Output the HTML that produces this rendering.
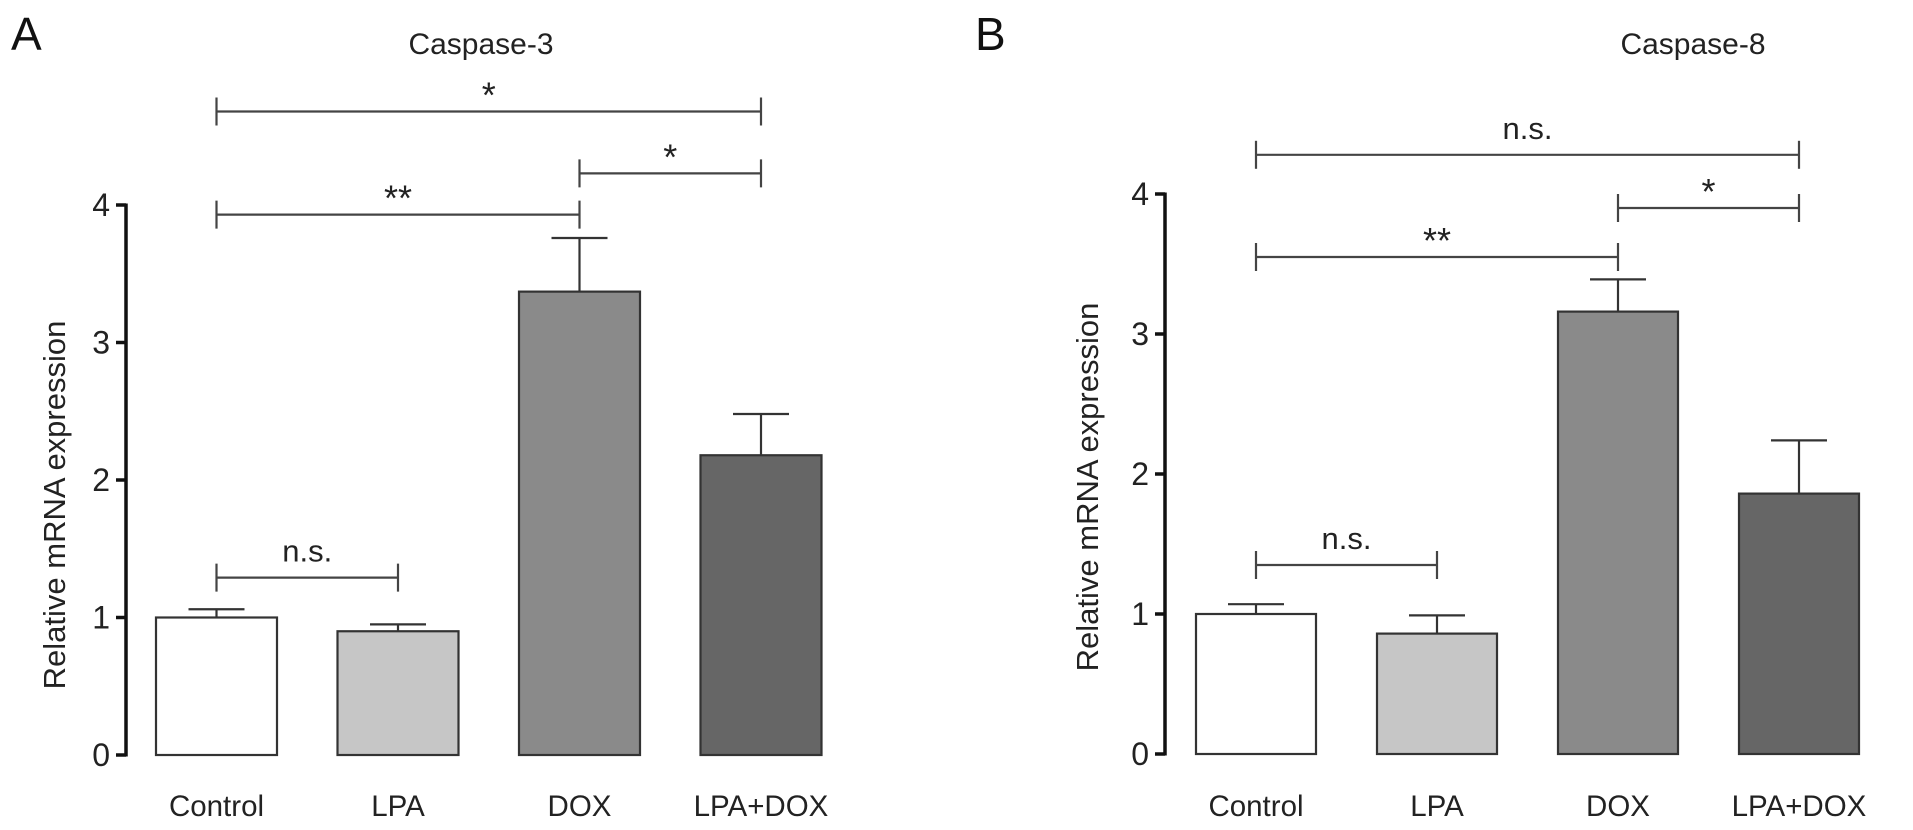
<!DOCTYPE html>
<html><head><meta charset="utf-8"><style>
html,body{margin:0;padding:0;background:#fff;}
svg{display:block;font-family:"Liberation Sans",Arial,sans-serif;}
</style></head><body>
<svg id="chart" width="1913" height="830" viewBox="0 0 1913 830">
<text x="11" y="50" font-size="46" fill="#111">A</text>
<text x="975" y="50" font-size="46" fill="#111">B</text>
</svg>
<script>
const categories = ["Control","LPA","DOX","LPA+DOX"];
const casp3Values = [1.0, 0.9, 3.37, 2.18];
const casp3Errors = [0.06, 0.05, 0.39, 0.30];
const casp8Values = [1.0, 0.86, 3.16, 1.86];
const casp8Errors = [0.07, 0.13, 0.23, 0.38];
const yTicks = [0,1,2,3,4];
const barColors = ["#ffffff","#c6c6c6","#8a8a8a","#666666"];
const casp3Sig = [{a:0,b:3,label:"*",v:4.68},{a:2,b:3,label:"*",v:4.23},{a:0,b:2,label:"**",v:3.93},{a:0,b:1,label:"n.s.",v:1.29}];
const casp8Sig = [{a:0,b:3,label:"n.s.",v:4.28},{a:2,b:3,label:"*",v:3.9},{a:0,b:2,label:"**",v:3.55},{a:0,b:1,label:"n.s.",v:1.35}];

const NS="http://www.w3.org/2000/svg";
const svg=document.getElementById('chart');
function mk(tag,attrs,parent){const e=document.createElementNS(NS,tag);for(const k in attrs)e.setAttribute(k,attrs[k]);(parent||svg).appendChild(e);return e;}

function panel(cfg){
  const g=mk('g',{});
  
  
  const y=v=>cfg.y0-v*cfg.unit;
  const xc=i=>cfg.firstLeft+i*cfg.step+cfg.bw/2;
  const t=mk('text',{x:cfg.titleX,y:54,'font-size':30,'text-anchor':'middle',fill:'#222'},g);t.textContent=cfg.title;
  
  
  const ax=mk('line',{x1:cfg.ax,y1:y(4)-1.5,x2:cfg.ax,y2:y(0)+1.5,stroke:'#111','stroke-width':3.5},g);
  
  
  yTicks.forEach(v=>{
    const tk=mk('line',{x1:cfg.ax-10,y1:y(v),x2:cfg.ax,y2:y(v),stroke:'#111','stroke-width':3.5},g);
    
    
    const tl=mk('text',{x:cfg.ax-16,y:y(v)+11,'font-size':32,'text-anchor':'end',fill:'#222'},g);tl.textContent=v;
    
    
  });
  const yt=mk('text',{x:0,y:0,'font-size':31,'text-anchor':'middle',fill:'#222',transform:`translate(${cfg.ytX},${cfg.ytY}) rotate(-90)`},g);
  yt.textContent='Relative mRNA expression';
  
  
  categories.forEach((c,i)=>{
    const left=cfg.firstLeft+i*cfg.step;
    const v=cfg.values[i],e=cfg.errors[i];
    const el=mk('line',{x1:xc(i),y1:y(v),x2:xc(i),y2:y(v+e),stroke:'#333','stroke-width':2.2},g);
    
    
    const cap=mk('line',{x1:xc(i)-28,y1:y(v+e),x2:xc(i)+28,y2:y(v+e),stroke:'#333','stroke-width':2.2},g);
    
    
    const r=mk('rect',{x:left,y:y(v),width:cfg.bw,height:y(0)-y(v),fill:barColors[i],stroke:'#333','stroke-width':2.2},g);
    
    
    const xl=mk('text',{x:xc(i),y:816,'font-size':29.5,'text-anchor':'middle',fill:'#222'},g);xl.textContent=c;
    
    
  });
  cfg.sig.forEach(s=>{
    const yy=y(s.v);
    const x1=xc(s.a),x2=xc(s.b);
    const sg=mk('g',{stroke:'#444','stroke-width':2.2},g);
    
    
    mk('line',{x1:x1,y1:yy,x2:x2,y2:yy},sg);
    mk('line',{x1:x1,y1:yy-14,x2:x1,y2:yy+14},sg);
    mk('line',{x1:x2,y1:yy-14,x2:x2,y2:yy+14},sg);
    const isNs=s.label==='n.s.';
    const st=mk('text',{x:(x1+x2)/2,y:isNs?yy-16:yy-4,'font-size':isNs?31:36,'text-anchor':'middle',fill:'#222'},g);
    st.textContent=s.label;
    
    
  });
}
panel({name:'panel-a-caspase-3',title:'Caspase-3',titleX:481,ax:126,y0:755,unit:137.5,firstLeft:156,step:181.5,bw:121,values:casp3Values,errors:casp3Errors,sig:casp3Sig,ytX:65,ytY:505});
panel({name:'panel-b-caspase-8',title:'Caspase-8',titleX:1693,ax:1165,y0:754,unit:140,firstLeft:1196,step:181,bw:120,values:casp8Values,errors:casp8Errors,sig:casp8Sig,ytX:1098,ytY:487});
</script>
</body></html>
